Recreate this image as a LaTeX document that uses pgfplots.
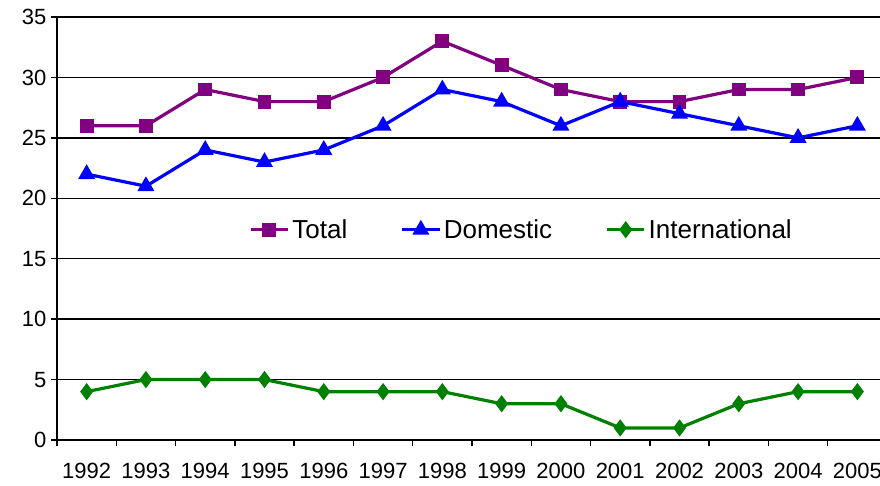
\documentclass[border=0pt]{standalone}
\usepackage{pgfplots}
\pgfplotsset{compat=1.18}
\usepackage{fontspec}
\setmainfont{Liberation Sans}
\definecolor{cTotal}{RGB}{128,0,128}
\definecolor{cDom}{RGB}{0,0,255}
\definecolor{cInt}{RGB}{0,128,0}
\begin{document}
\begin{tikzpicture}
\begin{axis}[
  scale only axis, width=622.5pt, height=317.25pt,
  xmin=1991.5, xmax=2005.5, ymin=0, ymax=35,
  xtick={1991.5,1992.5,1993.5,1994.5,1995.5,1996.5,1997.5,1998.5,1999.5,2000.5,2001.5,2002.5,2003.5,2004.5,2005.5},
  x tick label as interval,
  xticklabels={1992,1993,1994,1995,1996,1997,1998,1999,2000,2001,2002,2003,2004,2005},
  ytick={0,5,10,15,20,25,30,35},
  ymajorgrids, grid style={black, line width=1pt},
  axis x line*=bottom, axis y line*=left,
  axis line style={black, line width=1.2pt, -},
  tick align=outside, major tick length=4.5pt, tick style={black, line width=1pt},
  tick label style={font=\fontsize{16.5}{19}\selectfont},
  /pgf/number format/assume math mode=true,
  xticklabel style={yshift=-9pt},
  legend style={at={(axis cs:1999.34,17.4)}, anchor=center, draw=none, fill=none,
    legend columns=-1, font=\fontsize{19.5}{22}\selectfont,
    /tikz/every even column/.append style={column sep=38pt}},
  legend image code/.code={\draw[mark repeat=2,mark phase=2] plot coordinates {(0pt,0pt) (14pt,0pt) (28pt,0pt)};},
]
\addplot[cTotal, line width=2.4pt, mark=square*, mark size=4pt, mark options={solid}] coordinates {
(1992,26) (1993,26) (1994,29) (1995,28) (1996,28) (1997,30) (1998,33) (1999,31) (2000,29) (2001,28) (2002,28) (2003,29) (2004,29) (2005,30)};
\addlegendentry{Total}
\addplot[cDom, line width=2.4pt, mark=triangle*, mark size=5pt, mark options={solid}] coordinates {
(1992,22) (1993,21) (1994,24) (1995,23) (1996,24) (1997,26) (1998,29) (1999,28) (2000,26) (2001,28) (2002,27) (2003,26) (2004,25) (2005,26)};
\addlegendentry{Domestic}
\addplot[cInt, line width=2.4pt, mark=diamond*, mark size=4.5pt, mark options={solid}] coordinates {
(1992,4) (1993,5) (1994,5) (1995,5) (1996,4) (1997,4) (1998,4) (1999,3) (2000,3) (2001,1) (2002,1) (2003,3) (2004,4) (2005,4)};
\addlegendentry{International}
\coordinate (SW) at (rel axis cs:0,0);
\coordinate (NW) at (rel axis cs:0,1);
\end{axis}
\pgfresetboundingbox
\path ([xshift=-42.75pt,yshift=-33.75pt]SW) rectangle ([xshift=617.25pt,yshift=12.75pt]NW);
\end{tikzpicture}
\end{document}
